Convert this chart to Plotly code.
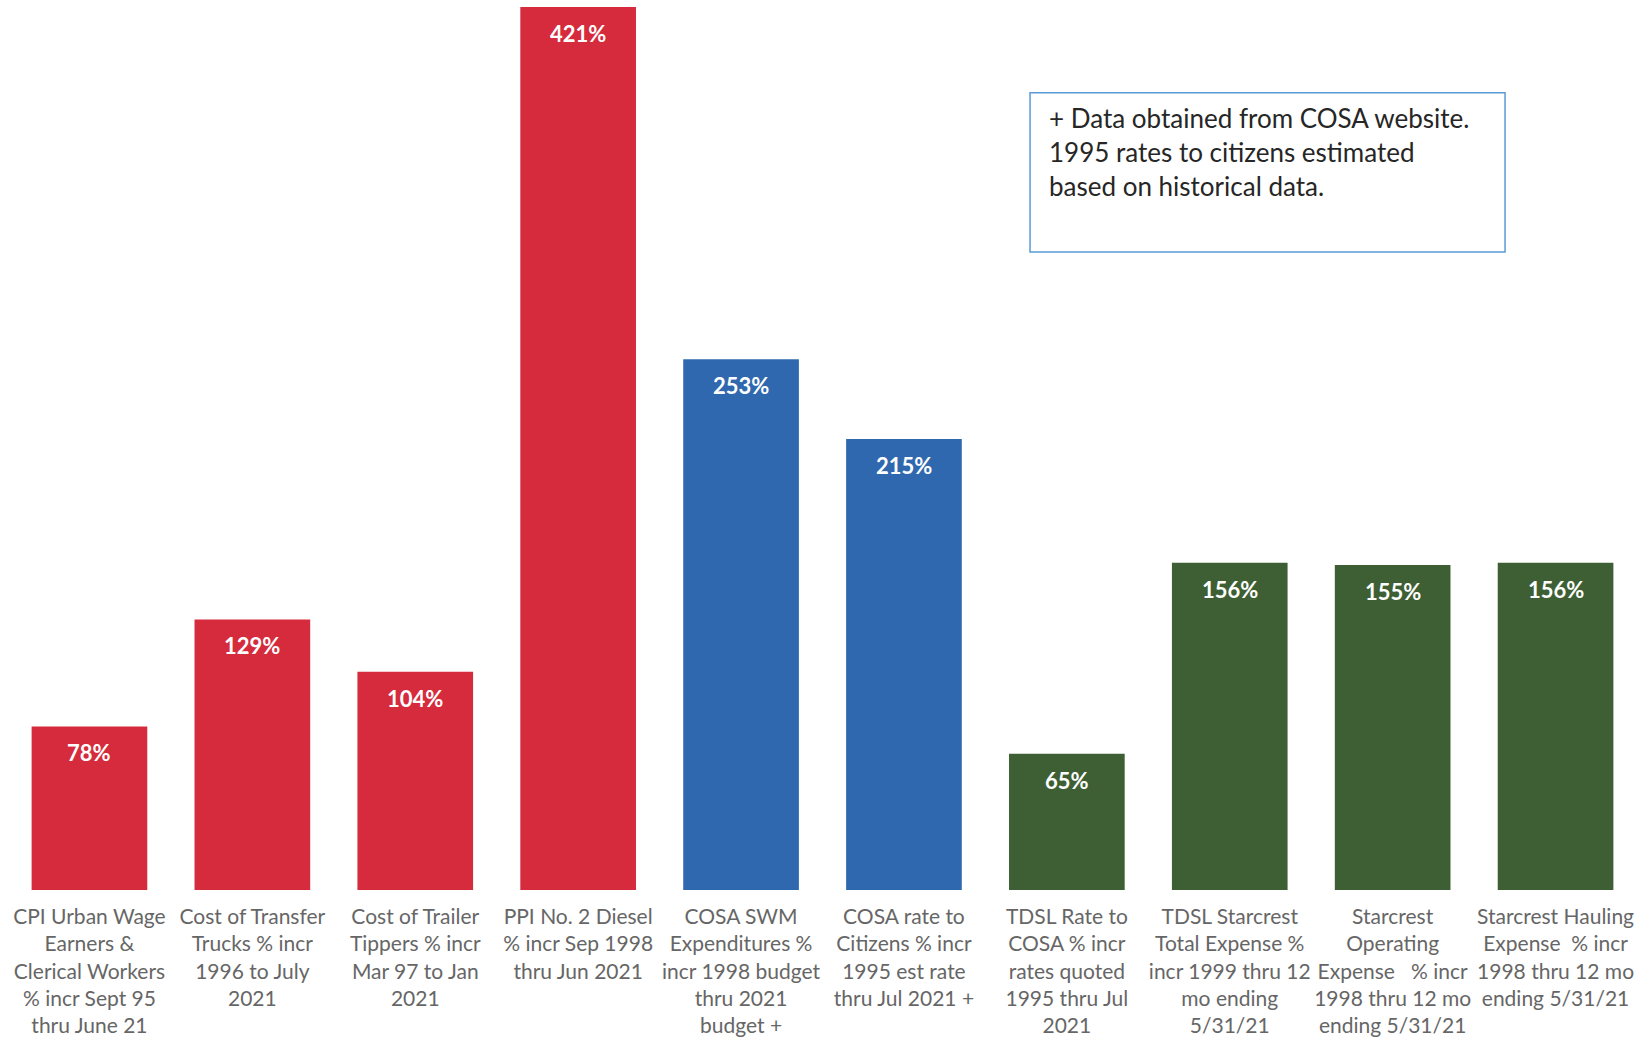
import plotly.graph_objects as go

categories = [
    "CPI Urban Wage<br>Earners &<br>Clerical Workers<br>% incr Sept 95<br>thru June 21",
    "Cost of Transfer<br>Trucks % incr<br>1996 to July<br>2021",
    "Cost of Trailer<br>Tippers % incr<br>Mar 97 to Jan<br>2021",
    "PPI No. 2 Diesel<br>% incr Sep 1998<br>thru Jun 2021",
    "COSA SWM<br>Expenditures %<br>incr 1998 budget<br>thru 2021<br>budget +",
    "COSA rate to<br>Citizens % incr<br>1995 est rate<br>thru Jul 2021 +",
    "TDSL Rate to<br>COSA % incr<br>rates quoted<br>1995 thru Jul<br>2021",
    "TDSL Starcrest<br>Total Expense %<br>incr 1999 thru 12<br>mo ending<br>5/31/21",
    "Starcrest<br>Operating<br>Expense   % incr<br>1998 thru 12 mo<br>ending 5/31/21",
    "Starcrest Hauling<br>Expense  % incr<br>1998 thru 12 mo<br>ending 5/31/21",
]
values = [78, 129, 104, 421, 253, 215, 65, 156, 155, 156]
groups = ["red", "red", "red", "red", "blue", "blue", "green", "green", "green", "green"]
group_colors = {"red": "#d52b3c", "blue": "#2f68ae", "green": "#3e5f34"}
note_text = "+ Data obtained from COSA website.<br>1995 rates to citizens estimated<br>based on historical data."

fig = go.Figure()
fig.add_trace(go.Bar(
    x=categories,
    y=values,
    marker=dict(color=[group_colors[g] for g in groups], line=dict(width=0)),
    hoverinfo="skip",
))

for c, v in zip(categories, values):
    fig.add_annotation(
        x=c, y=v, xref="x", yref="y",
        text=f"<b>{v}%</b>",
        showarrow=False, yanchor="top", yshift=-11,
        font=dict(family="Lato", size=22, color="white"),
    )

fig.add_shape(
    type="rect", xref="paper", yref="paper",
    x0=0.6274, x1=0.919, y0=0.7225, y1=0.903,
    line=dict(color="#5b9bd5", width=1.5), fillcolor="white", layer="above",
)
fig.add_annotation(
    xref="paper", yref="paper", x=0.638, y=0.895,
    xanchor="left", yanchor="top", align="left",
    text=note_text, showarrow=False,
    font=dict(family="Lato", size=26, color="#262626"),
)

fig.update_layout(
    width=1648, height=1046,
    margin=dict(l=8, r=11, t=7, b=156),
    paper_bgcolor="white", plot_bgcolor="white",
    bargap=0.29,
    showlegend=False,
    xaxis=dict(
        showgrid=False, showline=False, zeroline=False, ticks="",
        tickfont=dict(family="Lato", size=21, color="#666666"),
        ticklabelstandoff=12,
    ),
    yaxis=dict(range=[0, 421], visible=False, showgrid=False, zeroline=False),
)

fig.write_html("out.html")
